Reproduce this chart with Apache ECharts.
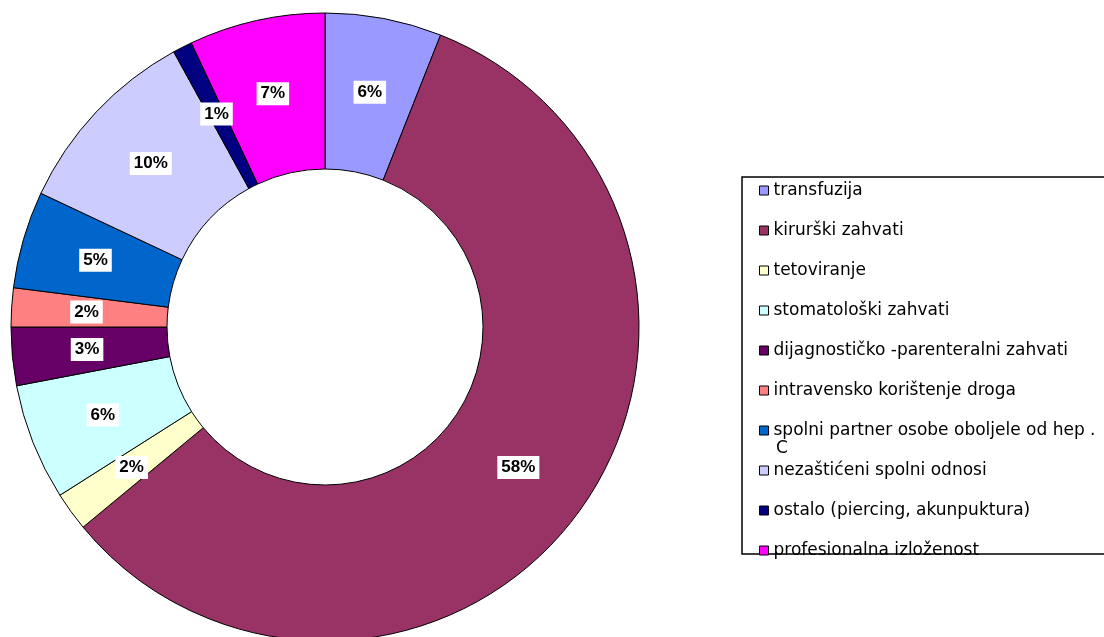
<!DOCTYPE html>
<html>
<head>
<meta charset="utf-8">
<script src="https://cdn.jsdelivr.net/npm/echarts@6/dist/echarts.min.js"></script>
<style>
  html, body { margin: 0; padding: 0; background: #fff; }
  #main { width: 1104px; height: 637px; }
</style>
</head>
<body>
<div id="main"></div>
<script>
// kategorije i postoci
var categories = [
    'transfuzija',
    'kirurški zahvati',
    'tetoviranje',
    'stomatološki zahvati',
    'dijagnostičko -parenteralni zahvati',
    'intravensko korištenje droga',
    'spolni partner osobe oboljele od hep .',
    'nezaštićeni spolni odnosi',
    'ostalo (piercing, akunpuktura)',
    'profesionalna izloženost'
];
var values = [6, 58, 2, 6, 3, 2, 5, 10, 1, 7];
var colors = ['#9999FF', '#993366', '#FFFFCC', '#CCFFFF', '#660066',
              '#FF8080', '#0066CC', '#CCCCFF', '#000080', '#FF00FF'];

var chart = echarts.init(document.getElementById('main'));

var data = [];
for (var i = 0; i < categories.length; i++) {
    data.push({ name: categories[i], value: values[i], itemStyle: { color: colors[i] } });
}

chart.setOption({
    animation: false,
    graphic: [{
        type: 'rect',
        shape: { x: 742, y: 177, width: 400, height: 377 },
        style: { fill: 'transparent', stroke: '#000', lineWidth: 1.5 }
    }, {
        // drugi red legende
        type: 'text',
        left: 776,
        top: 440,
        style: { text: 'C', fontSize: 17, fontFamily: 'DejaVu Sans', fill: '#000' }
    }],
    legend: {
        orient: 'vertical',
        left: 754,
        top: 177,
        itemWidth: 9,
        itemHeight: 9,
        itemGap: 23,
        icon: 'rect',
        selectedMode: false,
        itemStyle: { borderColor: '#000', borderWidth: 1 },
        textStyle: { fontSize: 17, lineHeight: 17, fontFamily: 'DejaVu Sans', color: '#000' },
        data: categories
    },
    series: [{
        type: 'pie',
        center: [325, 327],
        radius: [158, 314],
        startAngle: 90,
        clockwise: true,
        avoidLabelOverlap: false,
        itemStyle: { borderColor: '#000', borderWidth: 1 },
        label: {
            position: 'inside',
            formatter: '{c}%',
            fontFamily: 'Liberation Sans',
            fontWeight: 'bold',
            fontSize: 17,
            color: '#000',
            backgroundColor: '#fff',
            padding: [3, 4]
        },
        labelLine: { show: false },
        emphasis: { disabled: true },
        data: data
    }]
});
</script>
</body>
</html>
